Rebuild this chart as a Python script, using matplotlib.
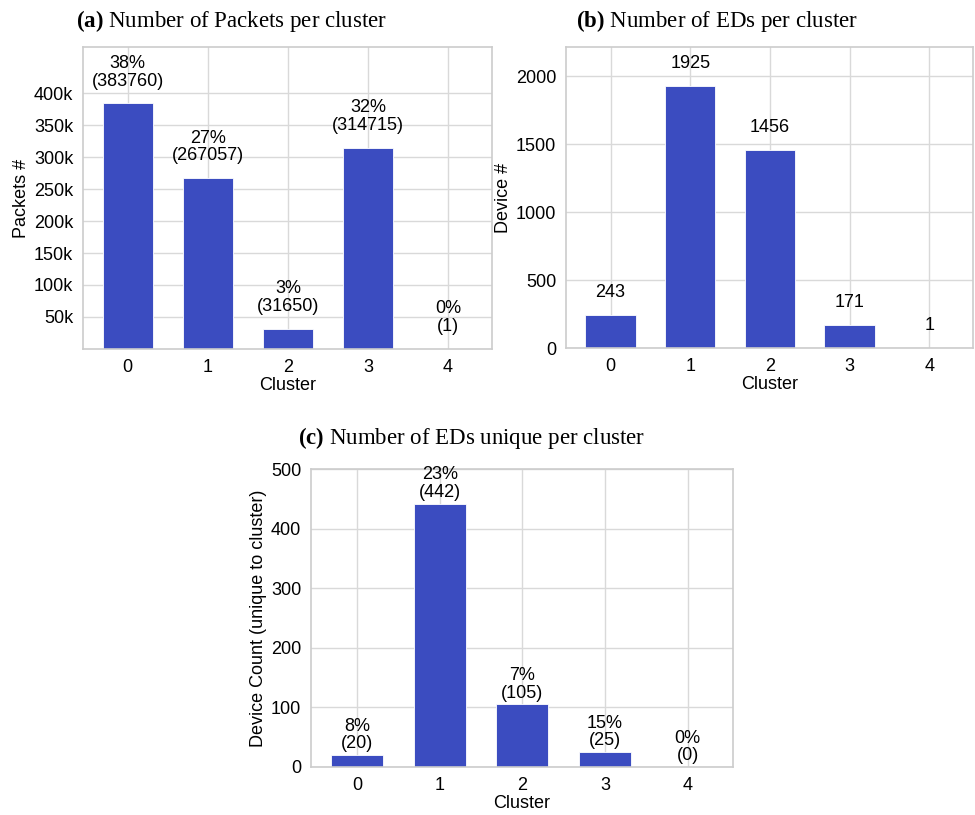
import matplotlib
matplotlib.use("Agg")
import matplotlib.pyplot as plt
from matplotlib.ticker import FuncFormatter

# data
clusters = [0, 1, 2, 3, 4]
packets = [383760, 267057, 31650, 314715, 1]
devices = [243, 1925, 1456, 171, 1]
unique_devices = [20, 442, 105, 25, 0]

bar_color = "#3b4cc0"
fs = 13

plt.rcParams["font.family"] = ["Liberation Sans", "DejaVu Sans"]
plt.rcParams["font.size"] = fs
plt.rcParams["mathtext.fontset"] = "custom"
plt.rcParams["mathtext.rm"] = "Liberation Serif"
plt.rcParams["mathtext.bf"] = "Liberation Serif:bold"

fig = plt.figure(figsize=(9.75, 8.15), dpi=100)
ax_a = fig.add_axes([0.0851, 0.5718, 0.4195, 0.3706])
ax_b = fig.add_axes([0.5805, 0.5730, 0.4174, 0.3694])
ax_c = fig.add_axes([0.3190, 0.0589, 0.4328, 0.3656])


def style(ax):
    ax.set_axisbelow(True)
    ax.grid(True, color="#d9d9d9", linewidth=1.0)
    for s in ax.spines.values():
        s.set_color("#cccccc")
        s.set_linewidth(1.2)
    ax.tick_params(length=0, pad=7, labelsize=fs, colors="black")
    ax.set_xticks(clusters)
    ax.set_xlim(-0.56, 4.55)
    ax.set_xlabel("Cluster", fontsize=fs, labelpad=1)


# (a) packets
style(ax_a)
ax_a.bar(clusters, packets, width=0.63, color=bar_color, edgecolor="white", linewidth=0.6)
ax_a.set_ylim(0, max(packets) * 1.23)
ax_a.set_yticks(range(50000, 450000, 50000))
ax_a.yaxis.set_major_formatter(FuncFormatter(lambda v, p: f"{int(v / 1000)}k"))
ax_a.set_ylabel("Packets #", fontsize=fs, labelpad=3)
tot = sum(packets)
for x, v in zip(clusters, packets):
    ax_a.annotate(f"{100 * v / tot:.0f}%\n({v})", (x, v), xytext=(0, 10),
                  textcoords="offset points", ha="center", va="bottom",
                  multialignment="center", linespacing=1.05, fontsize=fs)

# (b) devices
style(ax_b)
ax_b.bar(clusters, devices, width=0.63, color=bar_color, edgecolor="white", linewidth=0.6)
ax_b.set_ylim(0, max(devices) * 1.15)
ax_b.set_yticks(range(0, 2001, 500))
ax_b.set_ylabel("Device #", fontsize=fs, labelpad=3)
for x, v in zip(clusters, devices):
    ax_b.annotate(f"{v}", (x, v), xytext=(0, 10),
                  textcoords="offset points", ha="center", va="bottom", fontsize=fs)

# (c) unique devices
style(ax_c)
ax_c.bar(clusters, unique_devices, width=0.63, color=bar_color, edgecolor="white", linewidth=0.6)
ax_c.set_ylim(0, 500)
ax_c.set_yticks(range(0, 501, 100))
ax_c.set_ylabel("Device Count (unique to cluster)", fontsize=fs, labelpad=3)
for x, v, d in zip(clusters, unique_devices, devices):
    ax_c.annotate(f"{100 * v / d:.0f}%\n({v})", (x, v), xytext=(0, 2),
                  textcoords="offset points", ha="center", va="bottom",
                  multialignment="center", linespacing=1.05, fontsize=fs)

# captions
fig.text(0.237, 0.9669, r"$\mathbf{(a)}$ Number of Packets per cluster",
         ha="center", va="baseline", fontsize=16.5, family="Liberation Serif")
fig.text(0.7354, 0.9669, r"$\mathbf{(b)}$ Number of EDs per cluster",
         ha="center", va="baseline", fontsize=16.5, family="Liberation Serif")
fig.text(0.4841, 0.4552, r"$\mathbf{(c)}$ Number of EDs unique per cluster",
         ha="center", va="baseline", fontsize=16.5, family="Liberation Serif")

fig.savefig("out.png", dpi=100)
